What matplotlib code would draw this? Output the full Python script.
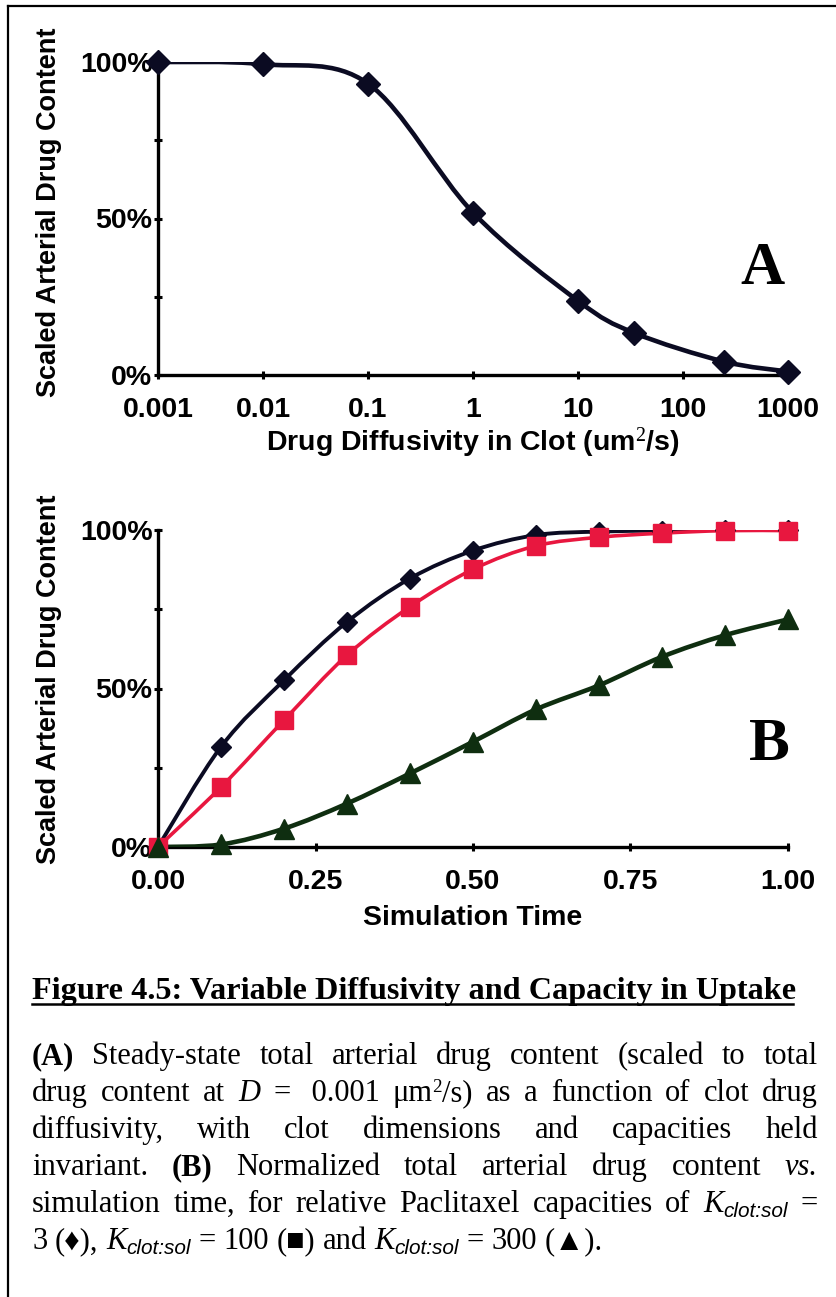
import matplotlib
matplotlib.use('Agg')
import matplotlib.pyplot as plt
import numpy as np
from matplotlib.path import Path
from matplotlib.patches import PathPatch
from matplotlib.lines import Line2D

# ---- data ----
# panel A: steady-state content vs clot diffusivity (um^2/s)
diff_A = [0.001, 0.01, 0.1, 1, 10, 34, 245, 1000]
content_A = [1.000, 0.993, 0.931, 0.519, 0.237, 0.135, 0.043, 0.011]

# panel B: content vs simulation time for K = 3, 100, 300
time_B = [0.0, 0.1, 0.2, 0.3, 0.4, 0.5, 0.6, 0.7, 0.8, 0.9, 1.0]
k3 = [0.0, 0.316, 0.526, 0.710, 0.847, 0.935, 0.984, 0.995, 0.998, 1.0, 1.0]
k100 = [0.0, 0.189, 0.400, 0.605, 0.758, 0.876, 0.950, 0.977, 0.990, 0.998, 0.998]
k300 = [0.0, 0.008, 0.058, 0.137, 0.232, 0.332, 0.434, 0.510, 0.600, 0.668, 0.718]

xticks_A = [0.001, 0.01, 0.1, 1, 10, 100, 1000]
xticklabels_A = ['0.001', '0.01', '0.1', '1', '10', '100', '1000']
xticks_B = [0.0, 0.25, 0.5, 0.75, 1.0]
xticklabels_B = ['0.00', '0.25', '0.50', '0.75', '1.00']

c_blk = '#0b0b22'
c_red = '#e8173f'
c_grn = '#0f2e10'

W, H = 836, 1297
fig = plt.figure(figsize=(W/100, H/100), dpi=100)
plt.rcParams['mathtext.fontset'] = 'custom'
plt.rcParams['mathtext.rm'] = 'Liberation Serif'
plt.rcParams['mathtext.it'] = 'Liberation Serif:italic'

sans = 'Liberation Sans'
serif = ['Liberation Serif', 'DejaVu Sans']


def smooth_path(ax, xs, ys, color, lw, logx=False):
    # Excel-style smoothed line: cubic bezier through the points
    u = np.log10(xs) if logx else np.asarray(xs, float)
    v = np.asarray(ys, float)
    verts = [(u[0], v[0])]
    codes = [Path.MOVETO]
    n = len(u)
    for i in range(n - 1):
        p0 = (u[max(i-1, 0)], v[max(i-1, 0)])
        p1 = (u[i], v[i])
        p2 = (u[i+1], v[i+1])
        p3 = (u[min(i+2, n-1)], v[min(i+2, n-1)])
        c1 = (p1[0] + (p2[0]-p0[0])/6, p1[1] + (p2[1]-p0[1])/6)
        c2 = (p2[0] - (p3[0]-p1[0])/6, p2[1] - (p3[1]-p1[1])/6)
        verts += [c1, c2, p2]
        codes += [Path.CURVE4]*3
    verts = np.array(verts)
    if logx:
        verts[:, 0] = 10**verts[:, 0]
    ax.add_patch(PathPatch(Path(verts, codes), fc='none', ec=color, lw=lw,
                           capstyle='round', joinstyle='round', zorder=3))


def style_axes(ax):
    for s in ['top', 'right']:
        ax.spines[s].set_visible(False)
    for s in ['left', 'bottom']:
        ax.spines[s].set_linewidth(2.4)
        ax.spines[s].set_color('black')
    ax.set_ylim(0, 1)
    ax.set_yticks([0, 0.25, 0.5, 0.75, 1.0])
    ax.set_yticklabels(['0%', '', '50%', '', '100%'])
    ax.tick_params(axis='both', direction='inout', length=6, width=2.2,
                   labelsize=20.5, color='black')
    ax.tick_params(axis='y', pad=1)
    ax.tick_params(axis='x', pad=13)
    for lab in ax.get_xticklabels() + ax.get_yticklabels():
        lab.set_fontweight('bold')
        lab.set_fontfamily(sans)
    ax.set_ylabel('Scaled Arterial Drug Content', fontsize=19.5,
                  fontweight='bold', fontfamily=sans)
    ax.patch.set_alpha(0)


# ---- panel A ----
axA = fig.add_axes([158/W, 1-375/H, 630/W, 313/H])
axA.set_xscale('log')
axA.set_xlim(0.001, 1000)
axA.set_xticks(xticks_A)
axA.set_xticklabels(xticklabels_A)
axA.minorticks_off()
style_axes(axA)
smooth_path(axA, diff_A, content_A, c_blk, 3.3, logx=True)
axA.plot(diff_A, content_A, ls='none', marker='D', ms=12.5, color=c_blk,
         clip_on=False, zorder=4)
axA.set_xlabel('Drug Diffusivity in Clot (um$^{2}$/s)', fontsize=20.5,
               fontweight='bold', fontfamily=sans)
axA.xaxis.set_label_coords(0.5, -0.16)
axA.yaxis.set_label_coords(-0.152, 0.52)
axA.text(0.995, 0.29, 'A', transform=axA.transAxes, ha='right', va='baseline',
         fontsize=44, fontweight='bold', fontfamily='Liberation Serif')

# ---- panel B ----
axB = fig.add_axes([158/W, 1-847/H, 630/W, 317/H])
axB.set_xlim(0, 1)
axB.set_xticks(xticks_B)
axB.set_xticklabels(xticklabels_B)
style_axes(axB)
smooth_path(axB, time_B, k3, c_blk, 2.8)
smooth_path(axB, time_B, k100, c_red, 2.6)
smooth_path(axB, time_B, k300, c_grn, 3.3)
axB.plot(time_B, k3, ls='none', marker='D', ms=10.5, color=c_blk, clip_on=False, zorder=4)
axB.plot(time_B, k100, ls='none', marker='s', ms=13.5, color=c_red, clip_on=False, zorder=5)
axB.plot(time_B, k300, ls='none', marker='^', ms=14, color=c_grn, clip_on=False, zorder=6)
axB.set_xlabel('Simulation Time', fontsize=20.5, fontweight='bold', fontfamily=sans)
axB.xaxis.set_label_coords(0.5, -0.182)
axB.yaxis.set_label_coords(-0.152, 0.53)
axB.text(1.003, 0.274, 'B', transform=axB.transAxes, ha='right', va='baseline',
         fontsize=44, fontweight='bold', fontfamily='Liberation Serif')

# ---- outer frame (left and top edges visible) ----
fig.add_artist(Line2D([8/W, 8/W], [0, 1-6/H], color='black', lw=1.6,
                      transform=fig.transFigure))
fig.add_artist(Line2D([8/W, 1], [1-6/H, 1-6/H], color='black', lw=1.6,
                      transform=fig.transFigure))

# ---- caption ----
title = 'Figure 4.5: Variable Diffusivity and Capacity in Uptake'
fig.text(32/W, 1-999/H, title, fontsize=23.2, fontweight='bold',
         family=serif, ha='left', va='baseline')
fig.add_artist(Line2D([32/W, 793/W], [1-1004/H, 1-1004/H], color='black',
                      lw=1.8, transform=fig.transFigure))

# each word is a list of parts (text, style); 'sub' parts are lowered subscripts
K = [('K', 'italic'), ('clot:sol', 'sub')]
caption = [
    [[('(A)', 'bold')], [('Steady-state', '')], [('total', '')], [('arterial', '')],
     [('drug', '')], [('content', '')], [('(scaled', '')], [('to', '')], [('total', '')]],
    [[('drug', '')], [('content', '')], [('at', '')], [('D', 'italic')], [('=', '')],
     [(' 0.001', '')], [('μm', ''), ('2', 'sup'), ('/s)', '')], [('as', '')], [('a', '')],
     [('function', '')], [('of', '')], [('clot', '')], [('drug', '')]],
    [[('diffusivity,', '')], [('with', '')], [('clot', '')], [('dimensions', '')],
     [('and', '')], [('capacities', '')], [('held', '')]],
    [[('invariant.', '')], [('(B)', 'bold')], [('Normalized', '')], [('total', '')],
     [('arterial', '')], [('drug', '')], [('content', '')], [('vs.', 'italic')]],
    [[('simulation', '')], [('time,', '')], [('for', '')], [('relative', '')],
     [('Paclitaxel', '')], [('capacities', '')], [('of', '')], K, [('=', '')]],
    [[('3', '')], [('(♦),', '')], K, [('=', '')], [('100', '')], [('(■)', '')],
     [('and', '')], K, [('=', '')], [('300', '')], [('(▲).', '')]],
]
baselines = [1064, 1101, 1138, 1175, 1212, 1249]
x0, x1 = 32, 818
fs_cap = 22

fig.canvas.draw()
renderer = fig.canvas.get_renderer()
t1 = fig.text(0, 0, 'a a', fontsize=fs_cap, family=serif)
t2 = fig.text(0, 0, 'a', fontsize=fs_cap, family=serif)
sw = t1.get_window_extent(renderer).width - 2*t2.get_window_extent(renderer).width
t1.remove()
t2.remove()

for li, (words, yb) in enumerate(zip(caption, baselines)):
    wobjs = []
    wwidths = []
    for parts in words:
        objs = []
        for txt, st in parts:
            kw = dict(fontsize=fs_cap, family=serif, ha='left', va='baseline')
            y = yb
            if st == 'bold':
                kw['fontweight'] = 'bold'
            elif st == 'italic':
                kw['fontstyle'] = 'italic'
            elif st == 'sub':
                kw.update(fontsize=fs_cap*0.68, family=[sans], fontstyle='italic')
                y = yb + 5
            elif st == 'sup':
                kw['fontsize'] = fs_cap*0.62
                y = yb - 9
            objs.append((fig.text(0, 1-y/H, txt, **kw)))
        ws = [o.get_window_extent(renderer).width for o in objs]
        wobjs.append((objs, ws))
        wwidths.append(sum(ws))
    if li < len(caption) - 1:
        gap = (x1 - x0 - sum(wwidths)) / (len(words) - 1)
    else:
        gap = sw
    x = x0
    for objs, ws in wobjs:
        for o, wd in zip(objs, ws):
            o.set_x(x/W)
            x += wd
        x += gap

fig.savefig('out.png', dpi=100)
